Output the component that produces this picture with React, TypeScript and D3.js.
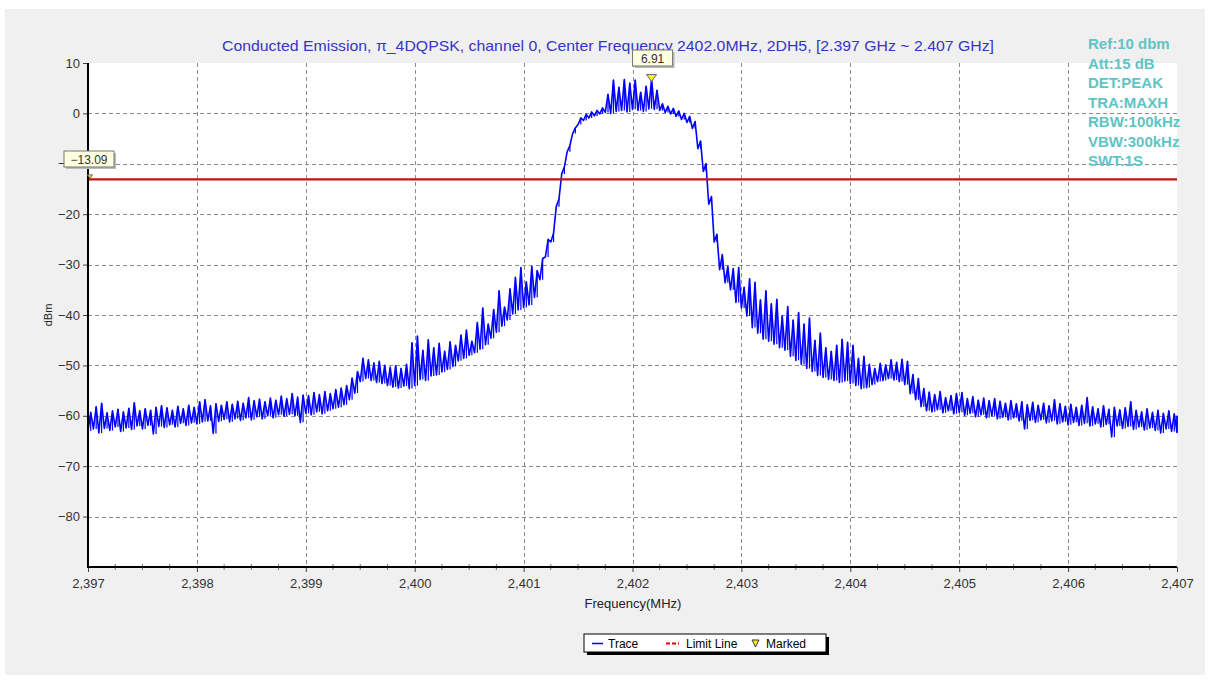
import * as d3 from "d3";
import { useEffect, useRef } from "react";

const W = 1211;
const H = 680;

// spectrum trace, one bin every 0.05 MHz from 2397 MHz: lowest and highest level seen in each bin (dBm)
const FREQ_START = 2397;
const FREQ_STEP = 0.05;

const traceMin = [
  -63.0, -62.6, -63.4, -62.5, -62.9, -62.2, -63.1, -62.4, -62.7, -62.0,
  -62.6, -61.9, -63.6, -62.1, -62.3, -61.8, -62.2, -61.5, -61.9, -61.4,
  -61.6, -61.2, -61.0, -63.5, -61.1, -60.7, -61.2, -60.6, -60.9, -60.4,
  -60.8, -60.2, -60.6, -60.0, -60.4, -59.8, -60.1, -59.7, -60.0, -61.3,
  -59.5, -59.8, -59.2, -59.6, -59.0, -58.6, -58.3, -57.8, -56.8, -55.5,
  -53.2, -52.6, -53.0, -53.4, -53.6, -54.0, -54.3, -54.5, -54.1, -54.6,
  -54.0, -52.8, -53.0, -52.1, -51.9, -51.3, -50.8, -50.2, -49.1, -48.6,
  -48.0, -47.5, -46.8, -45.9, -44.6, -43.4, -42.2, -41.0, -39.8, -39.0,
  -38.5, -38.0, -36.5, -33.0, -28.5, -25.5, -18.5, -12.0, -7.6, -4.0,
  -2.2, -1.4, -0.9, -0.5, -0.1, 0.2, 0.0, 0.4, 0.6, 0.3,
  0.8, 0.6, 0.4, 0.9, 0.8, 0.6, 0.2, -0.1, -0.6, -1.2,
  -1.8, -3.0, -7.0, -11.5, -18.0, -25.5, -31.0, -33.6, -35.0, -37.5,
  -38.6, -40.2, -42.5, -43.6, -44.8, -45.2, -45.8, -46.5, -47.0, -48.2,
  -49.0, -49.8, -50.6, -51.2, -52.0, -52.4, -52.8, -53.0, -53.4, -53.1,
  -53.6, -54.0, -54.6, -54.4, -53.8, -53.2, -53.0, -52.6, -52.9, -53.2,
  -53.8, -55.6, -56.8, -58.2, -59.0, -59.2, -58.8, -59.4, -59.0, -59.6,
  -59.3, -59.9, -59.5, -60.2, -59.8, -60.4, -60.0, -60.6, -60.3, -60.8,
  -60.4, -61.0, -62.6, -60.9, -61.3, -60.8, -61.4, -61.0, -61.6, -61.2,
  -61.8, -61.3, -61.9, -61.5, -62.0, -61.6, -62.2, -61.7, -64.2, -62.0,
  -62.5, -62.1, -62.7, -62.2, -62.8, -62.4, -62.9, -63.4, -62.6, -63.1,
  -63.3,
];

const traceMax = [
  -59.3, -58.2, -57.5, -59.4, -59.0, -58.7, -59.2, -58.5, -57.4, -59.0,
  -58.6, -58.9, -58.3, -58.0, -58.4, -58.9, -58.1, -58.6, -57.9, -58.3,
  -57.2, -56.8, -58.0, -57.6, -57.9, -57.2, -57.7, -57.1, -57.5, -56.4,
  -57.0, -56.7, -57.2, -56.5, -56.9, -56.1, -56.6, -55.6, -56.3, -55.9,
  -56.0, -55.4, -55.8, -55.2, -55.6, -54.8, -54.5, -54.0, -52.5, -51.2,
  -48.6, -48.9, -49.5, -49.2, -50.0, -50.4, -50.1, -50.6, -49.8, -45.5,
  -44.2, -47.0, -44.9, -46.5, -45.6, -47.2, -45.3, -46.0, -44.0, -43.0,
  -45.2, -41.5, -38.6, -41.8, -38.9, -35.2, -38.4, -34.8, -32.5, -30.6,
  -33.4, -30.4, -31.2, -28.8, -25.0, -23.8, -17.0, -10.6, -6.4, -2.9,
  -0.9, -0.2, 0.3, 0.6, 1.1, 3.8, 6.6, 5.2, 6.7, 6.0,
  6.6, 4.2, 5.4, 6.91, 4.6, 1.9, 1.4, 1.0, 0.5, 0.0,
  -0.6, -1.6, -5.5, -10.0, -16.5, -24.0, -28.0, -30.4, -30.8, -30.6,
  -34.5, -32.8, -33.5, -37.0, -35.2, -37.8, -36.9, -40.2, -38.3, -41.0,
  -39.5, -41.8, -40.6, -45.0, -43.6, -46.5, -47.2, -46.0, -44.8, -45.4,
  -46.0, -48.6, -48.2, -49.8, -50.6, -49.6, -49.9, -48.9, -49.4, -48.8,
  -49.2, -51.8, -52.6, -54.6, -55.3, -55.8, -55.2, -56.4, -56.0, -55.6,
  -55.4, -56.6, -56.2, -56.9, -56.5, -57.0, -56.6, -57.1, -57.5, -57.0,
  -57.6, -57.2, -57.8, -57.3, -57.9, -57.5, -58.0, -56.8, -57.6, -58.1,
  -57.7, -58.3, -57.9, -56.4, -58.2, -58.6, -58.0, -58.7, -58.3, -58.8,
  -58.4, -57.2, -58.9, -59.2, -58.6, -59.3, -58.9, -59.5, -59.0, -59.6,
  -60.0,
];

const xTicks = [2397, 2398, 2399, 2400, 2401, 2402, 2403, 2404, 2405, 2406, 2407];
const yTicks = [10, 0, -10, -20, -30, -40, -50, -60, -70, -80];
const xDomain: [number, number] = [2397, 2407];
const yDomain: [number, number] = [-90, 10];
const limitDb = -13.09;

const title =
  "Conducted Emission, \u03c0_4DQPSK, channel 0, Center Frequency 2402.0MHz, 2DH5, [2.397 GHz ~ 2.407 GHz]";
const infoLines = ["Ref:10 dbm", "Att:15 dB", "DET:PEAK", "TRA:MAXH", "RBW:100kHz", "VBW:300kHz", "SWT:1S"];
const legendItems = ["Trace", "Limit Line", "Marked"];

const FONT = "Arial, 'Liberation Sans', sans-serif";

export default function App() {
  const ref = useRef<SVGSVGElement | null>(null);

  useEffect(() => {
    const el = ref.current;
    if (!el) return;
    const svg = d3.select(el);
    svg.selectAll("*").remove();

    const margin = { top: 63, right: 34, bottom: 113, left: 88 };
    const iw = W - margin.left - margin.right;
    const ih = H - margin.top - margin.bottom;

    const x = d3.scaleLinear().domain(xDomain).range([0, iw]);
    const y = d3.scaleLinear().domain(yDomain).range([ih, 0]);

    // grey panel
    svg
      .append("rect")
      .attr("x", 5)
      .attr("y", 9)
      .attr("width", 1200)
      .attr("height", 666)
      .attr("fill", "#f0f0f0");

    svg
      .append("text")
      .attr("x", 222)
      .attr("y", 51)
      .attr("font-family", FONT)
      .attr("font-size", 14.5)
      .attr("textLength", 772)
      .attr("lengthAdjust", "spacingAndGlyphs")
      .attr("fill", "#3535c8")
      .text(title);

    const g = svg.append("g").attr("transform", `translate(${margin.left},${margin.top})`);

    g.append("rect").attr("width", iw).attr("height", ih).attr("fill", "#fff");

    const gridColor = "#8c8c8c";
    g.append("g")
      .selectAll("line")
      .data(xTicks.slice(1, -1))
      .join("line")
      .attr("x1", (d) => Math.round(x(d)) + 0.5)
      .attr("x2", (d) => Math.round(x(d)) + 0.5)
      .attr("y1", 0)
      .attr("y2", ih)
      .attr("stroke", gridColor)
      .attr("stroke-dasharray", "4,3");
    g.append("g")
      .selectAll("line")
      .data(yTicks.slice(1))
      .join("line")
      .attr("x1", 0)
      .attr("x2", iw)
      .attr("y1", (d) => Math.round(y(d)) + 0.5)
      .attr("y2", (d) => Math.round(y(d)) + 0.5)
      .attr("stroke", gridColor)
      .attr("stroke-dasharray", "4,3");

    // trace: bin low at the bin start, bin high half a bin later, plus each bin's min-max span
    const pts: [number, number][] = [];
    let spans = "";
    traceMin.forEach((lo, i) => {
      const f = FREQ_START + i * FREQ_STEP;
      const xm = i < traceMin.length - 1 ? x(f + FREQ_STEP / 2) : x(f);
      pts.push([x(f), y(lo)]);
      pts.push([xm, y(traceMax[i])]);
      spans += `M${xm},${y(lo)}V${y(traceMax[i])}`;
    });
    g.append("path")
      .attr("fill", "none")
      .attr("stroke", "#0000ff")
      .attr("stroke-width", 1.2)
      .attr("d", spans);
    g.append("path")
      .datum(pts)
      .attr("fill", "none")
      .attr("stroke", "#0000ff")
      .attr("stroke-width", 1.6)
      .attr("stroke-linejoin", "round")
      .attr("d", d3.line());

    // limit line
    g.append("line")
      .attr("x1", 0)
      .attr("x2", iw)
      .attr("y1", y(limitDb))
      .attr("y2", y(limitDb))
      .attr("stroke", "#cc1010")
      .attr("stroke-width", 2.2);

    // axes
    const tickText = "#333";
    g.append("g")
      .call(d3.axisLeft(y).tickValues(yTicks).tickSize(5).tickPadding(3))
      .call((a) => a.select(".domain").remove())
      .call((a) => a.selectAll(".tick line").attr("stroke", "#444"))
      .call((a) =>
        a.selectAll(".tick text").attr("fill", tickText).attr("font-size", 13).attr("font-family", FONT),
      );
    g.append("g")
      .attr("transform", `translate(0,${ih})`)
      .call(
        d3
          .axisBottom(x)
          .tickValues(xTicks)
          .tickSize(5)
          .tickPadding(7)
          .tickFormat(d3.format(",") as (v: d3.NumberValue) => string),
      )
      .call((a) => a.select(".domain").remove())
      .call((a) => a.selectAll(".tick line").attr("stroke", "#444"))
      .call((a) =>
        a.selectAll(".tick text").attr("fill", tickText).attr("font-size", 13).attr("font-family", FONT),
      );

    // minor ticks on the frequency axis
    g.append("g")
      .selectAll("line")
      .data(d3.range(2397.25, 2407, 0.25).filter((v) => Math.abs(v - Math.round(v)) > 0.01))
      .join("line")
      .attr("x1", (d) => x(d))
      .attr("x2", (d) => x(d))
      .attr("y1", ih - 3)
      .attr("y2", ih + 3)
      .attr("stroke", "#777");

    g.append("line").attr("x1", 0).attr("x2", 0).attr("y1", 0).attr("y2", ih + 1).attr("stroke", "#000").attr("stroke-width", 2);
    g.append("line").attr("x1", -1).attr("x2", iw).attr("y1", ih).attr("y2", ih).attr("stroke", "#000").attr("stroke-width", 2);

    svg
      .append("text")
      .attr("x", 633)
      .attr("y", 608)
      .attr("text-anchor", "middle")
      .attr("font-family", FONT)
      .attr("font-size", 13)
      .attr("fill", "#222")
      .text("Frequency(MHz)");
    svg
      .append("text")
      .attr("transform", `translate(52,${margin.top + ih / 2}) rotate(-90)`)
      .attr("text-anchor", "middle")
      .attr("font-family", FONT)
      .attr("font-size", 11)
      .attr("fill", "#222")
      .text("dBm");

    // marker boxes
    const tip = (cx: number, top: number, label: string, w: number) => {
      const b = svg.append("g");
      b.append("rect").attr("x", cx - w / 2 + 2).attr("y", top + 2).attr("width", w).attr("height", 16).attr("fill", "#bbb");
      b.append("rect")
        .attr("x", cx - w / 2)
        .attr("y", top)
        .attr("width", w)
        .attr("height", 16)
        .attr("fill", "#ffffe1")
        .attr("stroke", "#777");
      b.append("text")
        .attr("x", cx)
        .attr("y", top + 12.5)
        .attr("text-anchor", "middle")
        .attr("font-family", FONT)
        .attr("font-size", 12)
        .attr("fill", "#333")
        .text(label);
    };
    const tri = (cx: number, tipY: number, s: number) =>
      svg
        .append("path")
        .attr("d", `M${cx - s},${tipY - s * 1.4}L${cx + s},${tipY - s * 1.4}L${cx},${tipY}Z`)
        .attr("fill", "#f4f020")
        .attr("stroke", "#666")
        .attr("stroke-width", 1);

    const pk = d3.maxIndex(traceMax);
    const pkX = margin.left + x(FREQ_START + pk * FREQ_STEP + FREQ_STEP / 2);
    const pkY = margin.top + y(traceMax[pk]);
    tri(pkX, pkY + 3, 5);
    tip(pkX + 1, 50, d3.format(".2f")(traceMax[pk]), 40);

    const limY = margin.top + y(limitDb);
    tri(margin.left + 2, limY - 1, 2.5);
    tip(89, 151, d3.format(".2f")(limitDb), 50);

    // instrument settings
    svg
      .append("g")
      .selectAll("text")
      .data(infoLines)
      .join("text")
      .attr("x", 1088)
      .attr("y", (_, i) => 49 + i * 19.5)
      .attr("font-family", FONT)
      .attr("font-size", 15)
      .attr("font-weight", "bold")
      .attr("fill", "#5ec4c4")
      .text((d) => d);

    // legend
    const lg = svg.append("g").attr("transform", "translate(584,634)");
    lg.append("rect").attr("x", 3).attr("y", 3).attr("width", 242).attr("height", 18).attr("fill", "#000");
    lg.append("rect").attr("width", 242).attr("height", 18).attr("fill", "#fff").attr("stroke", "#000");
    const itemX = [8, 82, 171];
    legendItems.forEach((name, i) => {
      const ix = itemX[i];
      if (i === 0) {
        lg.append("line").attr("x1", ix).attr("x2", ix + 11).attr("y1", 9.5).attr("y2", 9.5).attr("stroke", "#0000ff").attr("stroke-width", 1.5);
      } else if (i === 1) {
        lg.append("line")
          .attr("x1", ix)
          .attr("x2", ix + 13)
          .attr("y1", 9.5)
          .attr("y2", 9.5)
          .attr("stroke", "#e00000")
          .attr("stroke-width", 2)
          .attr("stroke-dasharray", "4,2");
      } else {
        lg.append("path")
          .attr("d", `M${ix - 3},6L${ix + 4},6L${ix + 0.5},13Z`)
          .attr("fill", "#f4f020")
          .attr("stroke", "#333");
      }
      lg.append("text")
        .attr("x", ix + (i === 2 ? 11 : i === 1 ? 20 : 16))
        .attr("y", 13.5)
        .attr("font-family", FONT)
        .attr("font-size", 12)
        .attr("fill", "#000")
        .text(name);
    });
  }, []);

  return (
    <div style={{ position: "absolute", left: 0, top: 0, width: W, height: H, background: "#fff" }}>
      <svg ref={ref} width={W} height={H} style={{ display: "block" }} />
    </div>
  );
}
